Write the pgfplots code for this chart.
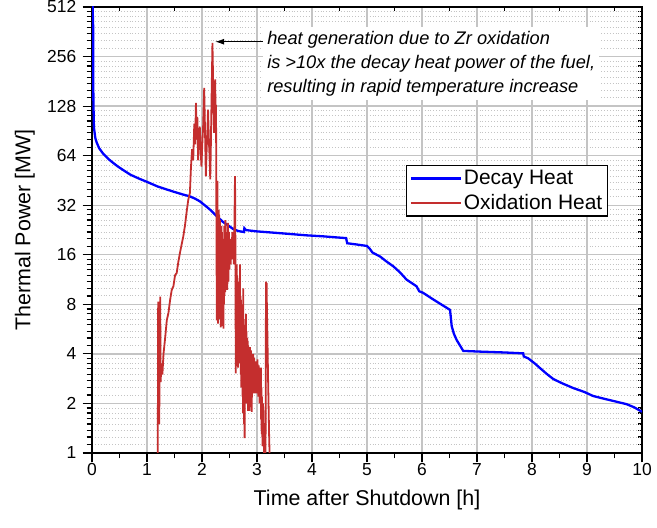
\documentclass[border=0pt]{standalone}
\usepackage{fontspec}
\setmainfont{Liberation Sans}
\usepackage{pgfplots}
\pgfplotsset{compat=1.18}
\usetikzlibrary{arrows.meta}
\definecolor{oxred}{RGB}{196,46,46}
\definecolor{gridgray}{RGB}{196,196,196}
\begin{document}
\begin{tikzpicture}
\useasboundingbox (0,0) rectangle (657bp,528bp);
% overlay axis for inward ticks on top and right
\begin{axis}[
    at={(92bp,75bp)}, anchor=south west,
    width=550bp, height=446bp, scale only axis,
    xmin=0, xmax=10, ymin=1, ymax=512,
    ymode=log,
    xtick={0,1,...,10},
    minor xtick={0.5,1.5,...,9.5},
    ytick={1,2,4,8,16,32,64,128,256,512},
    minor ytick={1.125,1.25,1.375,1.5,1.625,1.75,1.875,
      2.25,2.5,2.75,3,3.25,3.5,3.75,
      4.5,5,5.5,6,6.5,7,7.5,
      9,10,11,12,13,14,15,
      18,20,22,24,26,28,30,
      36,40,44,48,52,56,60,
      72,80,88,96,104,112,120,
      144,160,176,192,208,224,240,
      288,320,352,384,416,448,480},
    every tick/.style={black, line width=1.2bp},
    axis line style={black, line width=1.6bp},
  xtick pos=top, ytick pos=right, tick align=inside,
  xticklabels={}, yticklabels={},
  major tick length=8bp, minor tick length=4bp]
\end{axis}
\begin{axis}[
    at={(92bp,75bp)}, anchor=south west,
    width=550bp, height=446bp, scale only axis,
    xmin=0, xmax=10, ymin=1, ymax=512,
    ymode=log,
    xtick={0,1,...,10},
    minor xtick={0.5,1.5,...,9.5},
    ytick={1,2,4,8,16,32,64,128,256,512},
    minor ytick={1.125,1.25,1.375,1.5,1.625,1.75,1.875,
      2.25,2.5,2.75,3,3.25,3.5,3.75,
      4.5,5,5.5,6,6.5,7,7.5,
      9,10,11,12,13,14,15,
      18,20,22,24,26,28,30,
      36,40,44,48,52,56,60,
      72,80,88,96,104,112,120,
      144,160,176,192,208,224,240,
      288,320,352,384,416,448,480},
    major tick length=9.5bp, minor tick length=5.5bp,
    every tick/.style={black, line width=1.2bp},
    axis line style={black, line width=1.6bp},
    /pgf/number format/assume math mode=true,
  xtick pos=bottom, ytick pos=left, tick align=outside,
  yticklabels={1,2,4,8,16,32,64,128,256,512},
  tick label style={font=\fontsize{17.5}{17.5}\selectfont},
  xticklabel style={inner sep=0pt, yshift=-1bp},
  yticklabel style={inner sep=0pt, xshift=-6bp},
  xmajorgrids, ymajorgrids, yminorgrids,
  major grid style={gridgray, line width=1.3bp},
  minor grid style={gridgray, line width=0.9bp, dotted},
  xlabel={Time after Shutdown [h]},
  ylabel={Thermal Power [MW]},
  label style={font=\fontsize{21.5}{21.5}\selectfont},
  xlabel style={at={(axis description cs:0.5,-0.105)}, anchor=center},
  ylabel style={at={(axis description cs:-0.122,0.5)}, anchor=center},
  legend style={at={(0.571,0.646)}, anchor=north west, draw=black,
    line width=1.2bp, fill=white, font=\fontsize{21}{24}\selectfont,
    inner sep=3bp, row sep=4bp, cells={anchor=west}},
  legend image code/.code={\draw[#1] (0bp,0bp) -- (50bp,0bp);},
  legend cell align=left,
]
\addplot[blue, line width=2.3bp] coordinates {
(0,700) (0.02,400) (0.025,140) (0.035,95) (0.06,82) (0.085,77) (0.13,71)
(0.2,66) (0.3,61) (0.38,58) (0.47,55) (0.56,52.5) (0.7,49) (0.85,46.5)
(0.99,44.5) (1.2,41.5) (1.47,38.8) (1.65,37.2) (1.78,36.2) (1.88,35)
(1.96,33.8) (2.05,32) (2.15,30) (2.27,27.4) (2.39,25.2) (2.5,23.8)
(2.57,22.9) (2.66,22.3) (2.76,22.0) (2.77,23.2) (2.80,22.6) (2.99,22.2)
(3.3,21.8) (3.6,21.4) (3.9,21.0) (4.21,20.7) (4.45,20.4) (4.62,20.2)
(4.64,18.8) (4.8,18.5) (5.0,18.1) (5.05,17.4) (5.1,16.5) (5.24,15.6)
(5.35,14.6) (5.48,13.6) (5.6,12.5) (5.72,11.3) (5.9,10.3) (5.95,9.6)
(6.02,9.4) (6.15,8.8) (6.27,8.3) (6.4,7.8) (6.51,7.4) (6.54,5.9)
(6.58,5.3) (6.63,4.86) (6.75,4.17) (7.05,4.13) (7.5,4.08) (7.84,4.03)
(7.85,3.86) (7.93,3.76) (8.05,3.5) (8.15,3.27) (8.28,3.0) (8.39,2.81)
(8.55,2.65) (8.75,2.48) (8.95,2.35) (9.11,2.22) (9.3,2.14) (9.48,2.07)
(9.72,1.98) (9.85,1.9) (10,1.78)
};
\addlegendentry{Decay Heat}
\addplot[oxred, line width=1.8bp] coordinates {
(1.195,0.8) (1.200,3.3) (1.203,8.3) (1.208,2.0) (1.215,5.5) (1.222,1.5)
(1.232,4.0) (1.240,8.9) (1.248,2.7) (1.262,3.5) (1.280,3.0) (1.30,4.0)
(1.33,5.0) (1.36,6.4) (1.39,7.1) (1.42,8.5) (1.45,9.8) (1.48,10.3)
(1.51,12.0) (1.54,12.4) (1.57,14.5) (1.60,16.5) (1.63,18.5) (1.66,20.7)
(1.69,24) (1.72,29) (1.75,34.5) (1.78,38) (1.80,55) (1.82,70) (1.84,60)
(1.86,100) (1.875,75) (1.89,134) (1.905,80) (1.915,110) (1.93,60)
(1.945,85) (1.96,96) (1.975,70) (1.99,55) (2.005,75) (2.02,95) (2.04,165)
(2.055,90) (2.07,48) (2.085,70) (2.10,95) (2.11,122) (2.125,80) (2.14,60)
(2.15,46) (2.16,70) (2.175,150) (2.19,310) (2.20,200) (2.21,120) (2.22,88)
(2.23,140) (2.24,186) (2.25,88) (2.255,130) (2.26,40) (2.265,15) (2.27,6.4)
(2.275,20) (2.28,45) (2.285,12) (2.29,6.1) (2.295,25) (2.30,10) (2.305,30)
(2.31,8) (2.315,28) (2.32,6.5) (2.325,26) (2.33,7) (2.335,22) (2.34,5.8)
(2.345,20) (2.35,6) (2.355,24) (2.36,5.9) (2.365,22) (2.37,6.5) (2.375,18)
(2.38,7) (2.385,20) (2.39,5.7) (2.395,16) (2.40,8) (2.405,24) (2.41,9)
(2.415,20) (2.42,9.5) (2.425,26) (2.43,10) (2.435,22) (2.44,10) (2.445,18)
(2.45,11) (2.455,20) (2.46,9.8) (2.47,25) (2.48,11) (2.49,22) (2.50,13)
(2.51,20) (2.52,14) (2.53,18) (2.54,15) (2.55,22) (2.56,15.6) (2.57,20)
(2.58,14) (2.59,25) (2.60,48) (2.605,30) (2.61,8) (2.615,3.05) (2.62,10)
(2.625,5) (2.63,14) (2.635,3.5) (2.64,12) (2.645,4) (2.65,11) (2.655,3.3)
(2.66,10) (2.665,4.5) (2.67,9) (2.675,3.5) (2.68,8) (2.685,5) (2.69,14)
(2.695,3.5) (2.70,9) (2.705,3) (2.71,8.5) (2.715,2.5) (2.72,7.5) (2.725,3)
(2.73,8) (2.735,2.2) (2.74,7) (2.745,1.75) (2.75,10) (2.755,2.4) (2.76,6)
(2.765,1.5) (2.77,5) (2.775,1.23) (2.78,4) (2.785,2.5) (2.79,6.5) (2.795,2.4)
(2.80,7) (2.805,2.8) (2.81,5.5) (2.815,2.0) (2.82,5) (2.825,2.2) (2.83,4.8)
(2.835,1.8) (2.84,4.5) (2.845,2.0) (2.85,4.4) (2.855,2.2) (2.86,4.2)
(2.865,1.8) (2.87,4.4) (2.875,2.5) (2.88,4.0) (2.885,1.9) (2.89,4.2)
(2.895,2.2) (2.90,4.0) (2.905,1.78) (2.91,3.8) (2.915,2.4) (2.92,3.9)
(2.925,2.3) (2.93,4.0) (2.935,2.5) (2.94,3.6) (2.945,2.3) (2.95,3.8)
(2.955,2.6) (2.96,3.6) (2.965,2.3) (2.97,3.5) (2.975,2.5) (2.98,3.4)
(2.985,2.3) (2.99,3.6) (2.995,2.6) (3.00,3.4) (3.005,2.3) (3.01,3.7)
(3.015,2.5) (3.02,3.2) (3.025,2.2) (3.03,3.4) (3.035,2.7) (3.04,3.2)
(3.045,2.0) (3.05,3.2) (3.055,2.3) (3.06,3.0) (3.065,2.0) (3.07,3.3)
(3.075,1.6) (3.08,2.5) (3.085,1.3) (3.09,2.2) (3.10,1.1) (3.11,2.0)
(3.12,1.2) (3.13,1.0) (3.14,0.8) (3.155,0.8) (3.16,5) (3.165,11) (3.17,9)
(3.175,10.8) (3.18,7.7) (3.19,5) (3.20,3) (3.21,2) (3.22,1.3) (3.235,0.8)
};
\addlegendentry{Oxidation Heat}
\draw[black, line width=0.9bp, -{Latex[length=9bp,width=6bp]}]
  (axis cs:3.12,315) -- (axis cs:2.24,315);
\node[anchor=west, fill=white, inner sep=4bp, align=left,
  font=\fontsize{18.3}{24.3}\selectfont\itshape]
  at (axis cs:3.11,232)
  {heat generation due to Zr oxidation\\
   is >10x the decay heat power of the fuel,\\
   resulting in rapid temperature increase};
\end{axis}
\end{tikzpicture}
\end{document}
